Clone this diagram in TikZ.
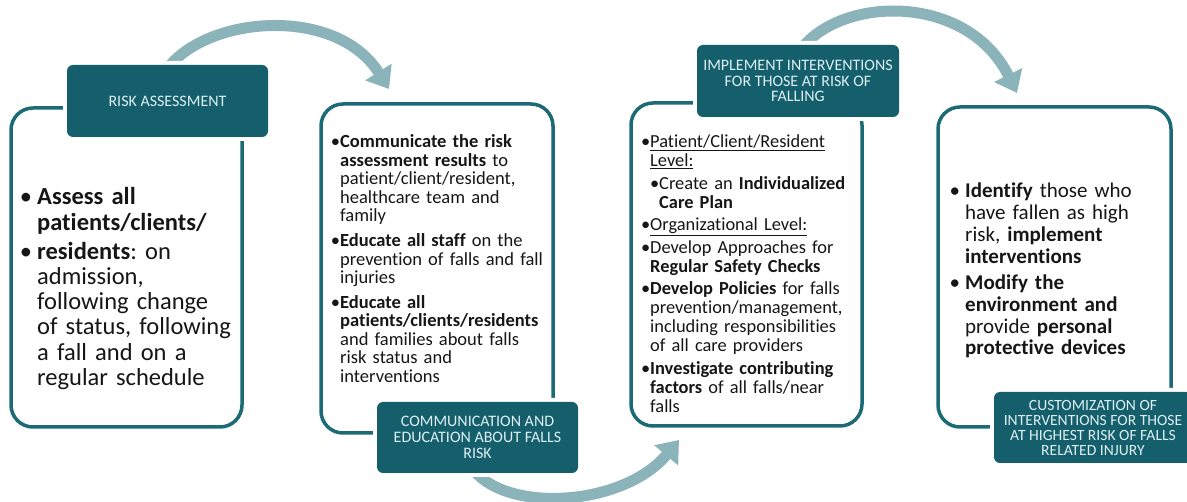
\documentclass[tikz,border=0pt]{standalone}
\usepackage{fontspec}
\setmainfont{Carlito}[Ligatures=NoCommon]
\usetikzlibrary{arrows.meta}
\frenchspacing

\definecolor{labelfill}{HTML}{145F6B}
\definecolor{boxline}{HTML}{1B6A76}
\definecolor{labeltext}{HTML}{DDEFF2}
\definecolor{bodytext}{HTML}{161616}
\definecolor{arrowblue}{HTML}{8BB3BA}

% hanging bullet: sits in the left margin, #1 = gap before the text
\newcommand\hbul[1]{\leavevmode\llap{\textbullet\hspace{#1}}}

\tikzset{
  stagebox/.style={draw=boxline, line width=3.5pt, rounded corners=22pt,
    inner sep=0pt, fill=white},
  stagelabel/.style={fill=labelfill, rounded corners=6pt, inner sep=0pt,
    preaction={draw=white, line width=8pt, rounded corners=6pt},
    text=labeltext, align=center, font=\fontsize{16}{15.8}\selectfont},
  bodytextblock/.style={anchor=base west, inner sep=0pt, text=bodytext,
    align=left},
  cyclearrow/.style={draw=arrowblue, line width=11pt,
    -{Triangle[width=30pt,length=20pt]}},
}

\begin{document}
\begin{tikzpicture}[x=1pt,y=-1pt]
\useasboundingbox (0,0) rectangle (1187,502);
\clip (0,0) rectangle (1187,502);

% end points of the curved cycle arrows
\coordinate (a1s) at (163,75);
\coordinate (a1e) at (389,89);
\coordinate (a2s) at (470,465);
\coordinate (a2e) at (679,440);
\coordinate (a3s) at (797,55);
\coordinate (a3e) at (1017,93);

\draw[cyclearrow] (a1s) .. controls (198,16) and (335,3) .. (a1e);
\draw[cyclearrow] (a2s) .. controls (500,514) and (622,508) .. (a2e);
\draw[cyclearrow] (a3s) .. controls (833,-4) and (966,-10) .. (a3e);

% stage boxes
\node[stagebox, minimum width=231pt, minimum height=319pt] (b1) at (126.5,267.5) {};
\node[stagebox, minimum width=232pt, minimum height=329pt] (b2) at (437,268.5) {};
\node[stagebox, minimum width=231pt, minimum height=323pt] (b3) at (746.5,264.5) {};
\node[stagebox, minimum width=233pt, minimum height=320pt] (b4) at (1054.5,267) {};

% stage labels
\node[stagelabel, minimum width=201pt, minimum height=72pt] (l1) at (167.5,101) {RISK ASSESSMENT};
\node[stagelabel, minimum width=201pt, minimum height=71pt] (l2) at (477.5,437.5)
  {COMMUNICATION AND\\EDUCATION ABOUT FALLS\\RISK};
\node[stagelabel, minimum width=202pt, minimum height=72pt] (l3) at (798,81)
  {IMPLEMENT INTERVENTIONS\\FOR THOSE AT RISK OF\\FALLING};
\node[stagelabel, minimum width=198pt, minimum height=71pt,
  font=\fontsize{15.6}{15}\selectfont] (l4) at (1093,427.5)
  {CUSTOMIZATION OF\\INTERVENTIONS FOR THOSE\\AT HIGHEST RISK OF FALLS\\RELATED INJURY};

% box contents
\node[bodytextblock, text width=215pt, font=\fontsize{24.5}{25.3}\selectfont] (t1) at (37,205)
  {\hbul{5pt}\textbf{Assess all}\\
   \textbf{patients/clients/}\\[3.5pt]
   \hbul{5pt}\textbf{residents}: on\\
   admission,\\
   following change\\
   of status, following\\
   a fall and on a\\
   regular schedule};

\node[bodytextblock, text width=215pt, font=\fontsize{18.5}{18.5}\selectfont] (t2) at (340,148)
  {\hbul{0pt}\textbf{Communicate the risk}\\
   \textbf{assessment results} to\\
   patient/client/resident,\\
   healthcare team and\\
   family\\[6.5pt]
   \hbul{0pt}\textbf{Educate all staff} on the\\
   prevention of falls and fall\\
   injuries\\[6pt]
   \hbul{0pt}\textbf{Educate all}\\
   \textbf{patients/clients/residents}\\
   and families about falls\\
   risk status and\\
   interventions};

\node[bodytextblock, text width=215pt, font=\fontsize{18.4}{19}\selectfont] (t3) at (650,148)
  {\hbul{0pt}\underline{Patient/Client/Resident}\\
   \underline{Level:}\\[3.5pt]
   \hspace*{9pt}\hbul{0pt}Create an \textbf{Individualized}\\
   \hspace*{9pt}\textbf{Care Plan}\\[3.5pt]
   \hbul{0pt}\underline{Organizational Level:}\\[3.5pt]
   \hbul{0pt}Develop Approaches for\\
   \textbf{Regular Safety Checks}\\[3.5pt]
   \hbul{0pt}\textbf{Develop Policies} for falls\\
   prevention/management,\\
   including responsibilities\\
   of all care providers\\[3.5pt]
   \hbul{0pt}\textbf{Investigate contributing}\\
   \textbf{factors} of all falls/near\\
   falls};

\node[bodytextblock, text width=205pt, font=\fontsize{21}{21.7}\selectfont] (t4) at (965,198)
  {\hbul{5pt}\textbf{Identify} those who\\
   have fallen as high\\
   risk, \textbf{implement}\\
   \textbf{interventions}\\[5pt]
   \hbul{5pt}\textbf{Modify the}\\
   \textbf{environment and}\\
   provide \textbf{personal}\\
   \textbf{protective devices}};
\end{tikzpicture}
\end{document}
